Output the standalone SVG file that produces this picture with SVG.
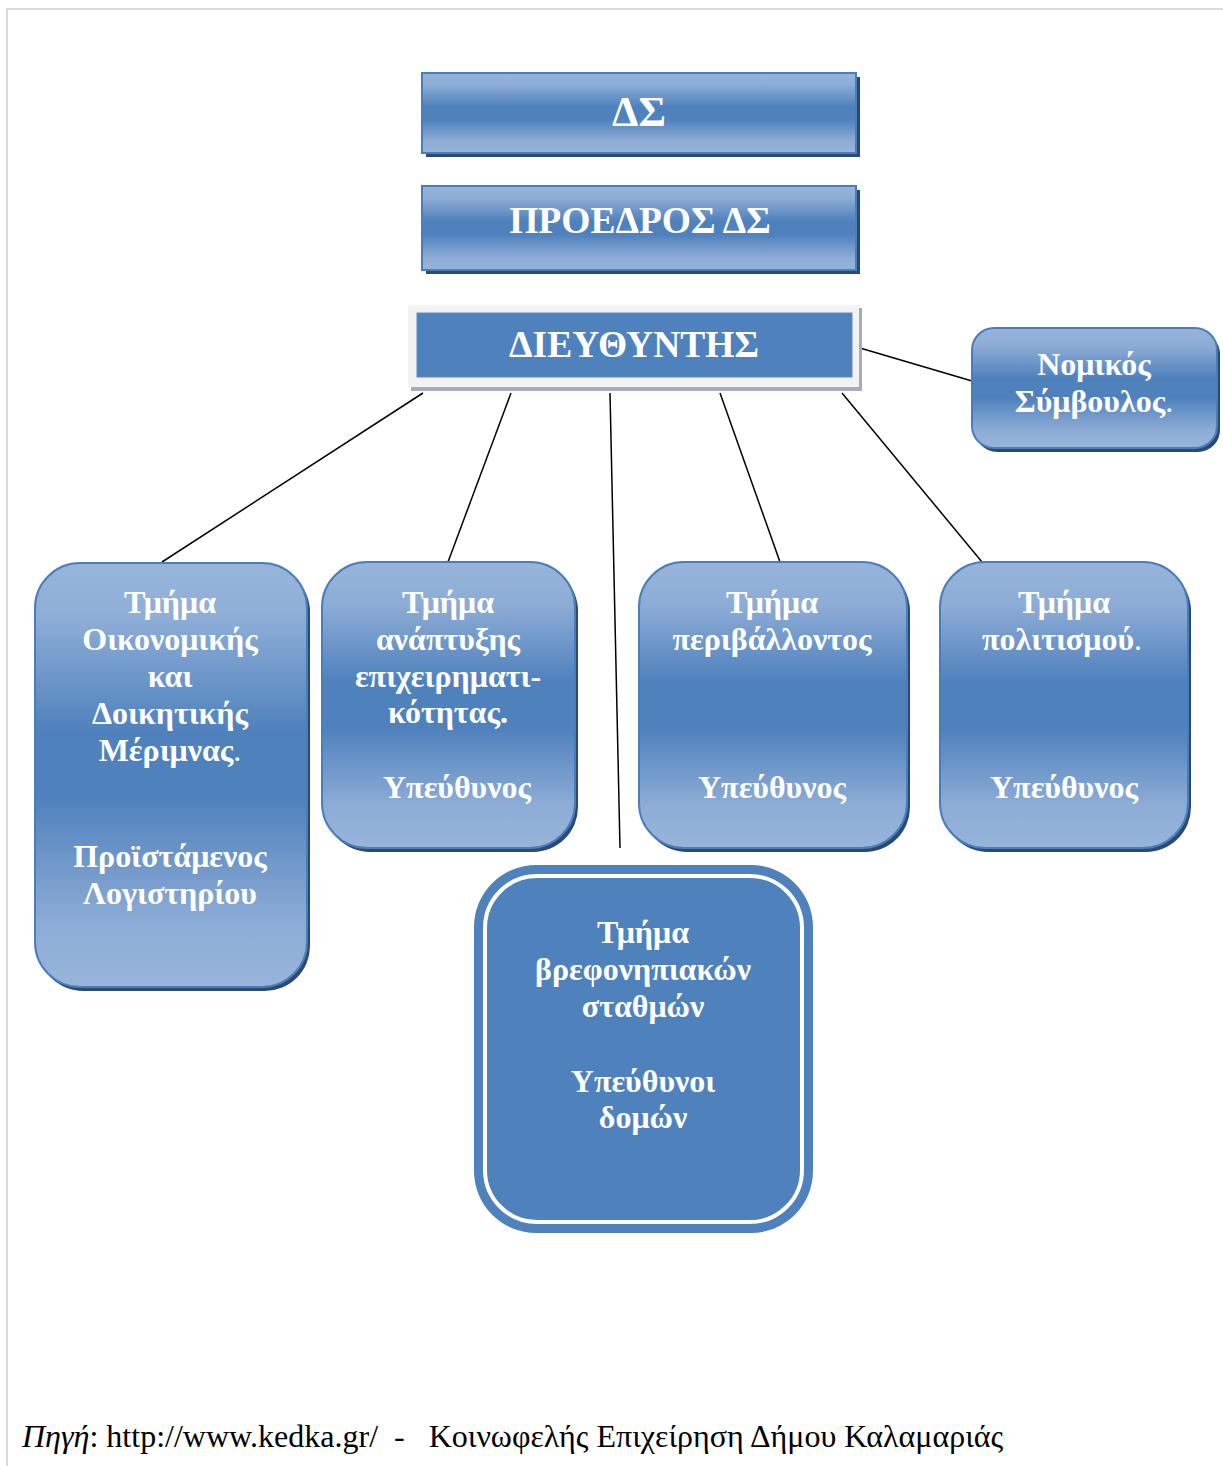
<svg xmlns="http://www.w3.org/2000/svg" width="1223" height="1466" viewBox="0 0 1223 1466">
<defs>
<linearGradient id="g" x1="0" y1="0" x2="0" y2="1">
<stop offset="0" stop-color="#97b5da"/>
<stop offset="0.15" stop-color="#8dacd6"/>
<stop offset="0.42" stop-color="#4f81bd"/>
<stop offset="0.58" stop-color="#4f81bd"/>
<stop offset="0.85" stop-color="#8dacd6"/>
<stop offset="1" stop-color="#97b5da"/>
</linearGradient>
<linearGradient id="gt" x1="0" y1="0" x2="0" y2="1">
<stop offset="0" stop-color="#97b5da"/>
<stop offset="0.12" stop-color="#8fafd8"/>
<stop offset="0.4" stop-color="#4f81bd"/>
<stop offset="0.55" stop-color="#4f81bd"/>
<stop offset="0.85" stop-color="#8dacd6"/>
<stop offset="1" stop-color="#97b5da"/>
</linearGradient>
</defs>
<style>
.t{font-family:"Liberation Serif","Times New Roman",serif;font-weight:bold;fill:#ffffff;text-anchor:middle}
.sh{fill:#2b4a73}
.bx{stroke:#4a7ebb;stroke-width:2}
.ln{stroke:#000000;stroke-width:1.5;fill:none}
.ft{font-family:"Liberation Serif","Times New Roman",serif;font-size:32px;fill:#000000}
</style>
<rect x="0" y="0" width="1223" height="1466" fill="#ffffff"/>
<path d="M7 1466 V9 H1223" fill="none" stroke="#d9d9d9" stroke-width="2"/>

<g id="connectors">
<line class="ln" x1="860" y1="348" x2="972" y2="381" stroke="#1f3a5f"/>
<line class="ln" x1="423" y1="393" x2="162" y2="562"/>
<line class="ln" x1="511" y1="393" x2="448" y2="562"/>
<line class="ln" x1="610" y1="393" x2="620" y2="848"/>
<line class="ln" x1="720" y1="393" x2="780" y2="562"/>
<line class="ln" x1="842" y1="393" x2="982" y2="562"/>
</g>

<g id="ds">
<rect class="sh" x="426" y="77" width="434" height="80"/>
<rect class="bx" x="422" y="73" width="434" height="80" fill="url(#g)"/>
<text class="t" x="639" y="126" font-size="42">ΔΣ</text>
</g>

<g id="proedros">
<rect class="sh" x="426" y="190" width="434" height="84"/>
<rect class="bx" x="422" y="186" width="434" height="84" fill="url(#g)"/>
<text class="t" x="640" y="233" font-size="37.5">ΠΡΟΕΔΡΟΣ ΔΣ</text>
</g>

<g id="dieythyntis">
<rect x="411" y="308" width="451" height="83" fill="#a6adb9"/>
<rect x="408" y="305" width="451" height="82" fill="#f2f2f2"/>
<rect x="417" y="313" width="435" height="64" fill="#4f81bd" stroke="#5b8bc3" stroke-width="1"/>
<text class="t" x="634" y="357" font-size="37.5">ΔΙΕΥΘΥΝΤΗΣ</text>
</g>

<g id="nomikos">
<rect class="sh" x="975" y="332" width="245" height="120" rx="22"/>
<rect class="bx" x="972" y="328" width="245" height="120" rx="22" fill="url(#g)"/>
<text class="t" x="1094" y="375" font-size="32">Νομικός</text>
<text class="t" x="1094" y="412" font-size="32">Σύμβουλος<tspan font-weight="normal">.</tspan></text>
</g>

<g id="oikonomiki">
<rect class="sh" x="38" y="567" width="272" height="424" rx="45"/>
<rect class="bx" x="35" y="563" width="272" height="424" rx="45" fill="url(#gt)"/>
<text class="t" font-size="32"><tspan x="170" y="613">Τμήμα</tspan><tspan x="170" y="650">Οικονομικής</tspan><tspan x="170" y="687">και</tspan><tspan x="170" y="724">Δοικητικής</tspan><tspan x="170" y="761">Μέριμνας<tspan font-weight="normal">.</tspan></tspan><tspan x="170" y="867">Προϊστάμενος</tspan><tspan x="170" y="904">Λογιστηρίου</tspan></text>
</g>

<g id="anaptyxi">
<rect class="sh" x="325" y="566" width="253" height="286" rx="45"/>
<rect class="bx" x="322" y="562" width="253" height="286" rx="45" fill="url(#g)"/>
<text class="t" font-size="32"><tspan x="448" y="613">Τμήμα</tspan><tspan x="448" y="650">ανάπτυξης</tspan><tspan x="448" y="687">επιχειρηματι-</tspan><tspan x="448" y="723">κότητας.</tspan><tspan x="457" y="798">Υπεύθυνος</tspan></text>
</g>

<g id="perivallon">
<rect class="sh" x="642" y="566" width="268" height="286" rx="45"/>
<rect class="bx" x="639" y="562" width="268" height="286" rx="45" fill="url(#g)"/>
<text class="t" font-size="32"><tspan x="772" y="613">Τμήμα</tspan><tspan x="772" y="650">περιβάλλοντος</tspan><tspan x="772" y="798">Υπεύθυνος</tspan></text>
</g>

<g id="politismos">
<rect class="sh" x="943" y="566" width="248" height="286" rx="45"/>
<rect class="bx" x="940" y="562" width="248" height="286" rx="45" fill="url(#g)"/>
<text class="t" font-size="32"><tspan x="1064" y="613">Τμήμα</tspan><tspan x="1062" y="650">πολιτισμού<tspan font-weight="normal">.</tspan></tspan><tspan x="1064" y="798">Υπεύθυνος</tspan></text>
</g>

<g id="vrefonipiakoi">
<rect x="474" y="865" width="339" height="368" rx="62" fill="#4f81bd"/>
<rect x="485" y="876" width="317" height="346" rx="52" fill="none" stroke="#ffffff" stroke-width="4"/>
<text class="t" font-size="32"><tspan x="643" y="943">Τμήμα</tspan><tspan x="643" y="980">βρεφονηπιακών</tspan><tspan x="643" y="1017">σταθμών</tspan><tspan x="643" y="1092">Υπεύθυνοι</tspan><tspan x="643" y="1128">δομών</tspan></text>
</g>

<text class="ft" x="22" y="1447" xml:space="preserve"><tspan font-style="italic">Πηγή</tspan>: http://www.kedka.gr/  -   Κοινωφελής Επιχείρηση Δήμου Καλαμαριάς</text>
</svg>
